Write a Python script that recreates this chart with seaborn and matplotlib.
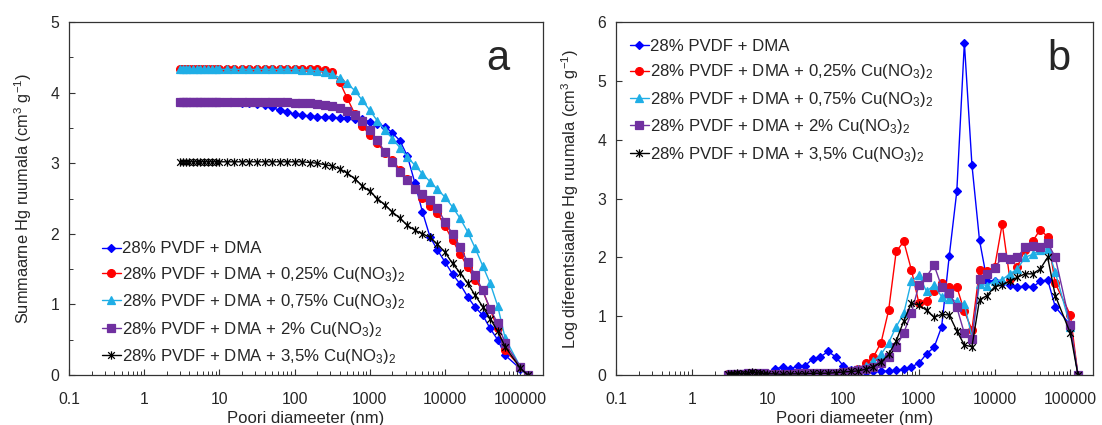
import matplotlib
matplotlib.use("Agg")
import matplotlib.pyplot as plt
import matplotlib.ticker as mticker
from matplotlib.path import Path
import seaborn as sns
import pandas as pd

# ---------------- data ----------------
diam = [3.0, 3.3, 3.6, 4.0, 4.5, 5.0, 5.6, 6.3, 7.1, 7.9, 8.9, 10,
        12.6, 15.8, 20, 25.1, 31.6, 39.8, 50.1, 63.1, 79.4,
        100, 126, 158, 200, 251, 316, 398, 501, 631, 794,
        1000, 1259, 1585, 1995, 2512, 3162, 3981, 5012, 6310, 7943,
        10000, 12589, 15849, 19953, 25119, 31623, 39811, 50119, 63096,
        100000, 125893]

labels = ["28% PVDF + DMA",
          "28% PVDF + DMA + 0,25% Cu(NO$_{\\mathrm{3}}$)$_{\\mathrm{2}}$",
          "28% PVDF + DMA + 0,75% Cu(NO$_{\\mathrm{3}}$)$_{\\mathrm{2}}$",
          "28% PVDF + DMA + 2% Cu(NO$_{\\mathrm{3}}$)$_{\\mathrm{2}}$",
          "28% PVDF + DMA + 3,5% Cu(NO$_{\\mathrm{3}}$)$_{\\mathrm{2}}$"]

# panel a: cumulative intrusion (cm3/g)
cum_blue = [3.87, 3.87, 3.87, 3.87, 3.87, 3.87, 3.87, 3.87, 3.87, 3.87, 3.87, 3.87,
            3.87, 3.87, 3.86, 3.85, 3.84, 3.82, 3.79, 3.75, 3.72,
            3.70, 3.68, 3.67, 3.66, 3.65, 3.65, 3.64, 3.64, 3.63, 3.62,
            3.59, 3.56, 3.52, 3.43, 3.32, 3.10, 2.72, 2.31, 1.96, 1.77,
            1.60, 1.43, 1.29, 1.11, 0.96, 0.85, 0.66, 0.50, 0.28,
            0.09, 0.0]
cum_red = [4.34, 4.34, 4.34, 4.34, 4.34, 4.34, 4.34, 4.34, 4.34, 4.34, 4.34, 4.34,
           4.34, 4.34, 4.34, 4.34, 4.34, 4.34, 4.34, 4.34, 4.34,
           4.34, 4.34, 4.34, 4.33, 4.32, 4.29, 4.15, 3.92, 3.70, 3.53,
           3.40, 3.29, 3.15, 3.04, 2.91, 2.77, 2.64, 2.51, 2.40, 2.29,
           2.11, 1.91, 1.72, 1.53, 1.35, 1.20, 0.93, 0.66, 0.35,
           0.12, 0.0]
cum_cyan = [4.33, 4.33, 4.33, 4.33, 4.33, 4.33, 4.33, 4.33, 4.33, 4.33, 4.33, 4.33,
            4.33, 4.33, 4.33, 4.33, 4.33, 4.33, 4.33, 4.33, 4.33,
            4.33, 4.32, 4.32, 4.31, 4.29, 4.26, 4.21, 4.13, 4.03, 3.89,
            3.75, 3.60, 3.47, 3.35, 3.22, 3.09, 2.97, 2.85, 2.74, 2.63,
            2.52, 2.38, 2.22, 2.03, 1.80, 1.55, 1.30, 0.98, 0.52,
            0.12, 0.0]
cum_purple = [3.87, 3.87, 3.87, 3.87, 3.87, 3.87, 3.87, 3.87, 3.87, 3.87, 3.87, 3.87,
              3.87, 3.87, 3.87, 3.87, 3.87, 3.87, 3.87, 3.87, 3.87,
              3.86, 3.86, 3.85, 3.84, 3.83, 3.81, 3.78, 3.74, 3.69, 3.60,
              3.47, 3.33, 3.16, 3.02, 2.88, 2.76, 2.64, 2.56, 2.48, 2.36,
              2.17, 2.00, 1.82, 1.60, 1.42, 1.20, 0.94, 0.73, 0.45,
              0.12, 0.0]
cum_black = [3.02, 3.02, 3.02, 3.02, 3.02, 3.02, 3.02, 3.02, 3.02, 3.02, 3.02, 3.02,
             3.02, 3.02, 3.02, 3.02, 3.02, 3.02, 3.02, 3.02, 3.02,
             3.02, 3.02, 3.01, 3.00, 2.98, 2.96, 2.92, 2.86, 2.78, 2.68,
             2.60, 2.50, 2.41, 2.31, 2.22, 2.12, 2.05, 2.00, 1.95, 1.85,
             1.74, 1.58, 1.45, 1.30, 1.13, 0.97, 0.80, 0.62, 0.40,
             0.10, 0.0]

# panel b: log differential intrusion (cm3/g)
dif_blue = [0.0, 0.0, 0.0, 0.0, 0.0, 0.0, 0.0, 0.0, 0.0, 0.0, 0.0, 0.0,
            0.11, 0.13, 0.11, 0.15, 0.16, 0.28, 0.31, 0.40, 0.31,
            0.16, 0.085, 0.06, 0.05, 0.06, 0.06, 0.07, 0.08, 0.10, 0.14,
            0.20, 0.36, 0.47, 0.82, 2.02, 3.12, 5.65, 3.57, 2.29, 1.60,
            1.60, 1.56, 1.53, 1.50, 1.51, 1.49, 1.59, 1.62, 1.16,
            0.85, 0.0]
dif_red = [0.01, 0.0, 0.01, 0.01, 0.0, 0.01, 0.01, 0.01, 0.0, 0.01, 0.01, 0.01,
           0.01, 0.01, 0.01, 0.02, 0.02, 0.02, 0.03, 0.03, 0.04,
           0.04, 0.07, 0.10, 0.20, 0.31, 0.55, 1.10, 2.10, 2.27, 1.79,
           1.22, 1.26, 1.42, 1.56, 1.50, 1.50, 1.08, 0.77, 1.79, 1.76,
           1.84, 2.57, 1.64, 1.84, 2.13, 2.27, 2.47, 2.35, 1.56,
           1.02, 0.0]
dif_cyan = [0.0, 0.0, 0.0, 0.0, 0.0, 0.0, 0.0, 0.0, 0.0, 0.0, 0.0, 0.0,
            0.0, 0.0, -0.01, 0.0, 0.0, 0.01, 0.01, 0.02, 0.03,
            0.05, 0.07, 0.10, 0.15, 0.23, 0.35, 0.55, 0.82, 1.05, 1.59,
            1.70, 1.42, 1.53, 1.33, 1.30, 1.25, 1.20, 0.65, 1.55, 1.52,
            1.60, 1.62, 1.72, 1.80, 2.00, 2.05, 2.12, 2.15, 1.75,
            0.82, 0.0]
dif_purple = [0.0, 0.01, 0.0, 0.02, 0.01, 0.02, 0.03, 0.02, 0.03, 0.02, 0.03, 0.02,
              0.02, 0.02, 0.02, 0.03, 0.03, 0.04, 0.04, 0.04, 0.04,
              0.05, 0.06, 0.08, 0.10, 0.14, 0.20, 0.30, 0.48, 0.72, 1.05,
              1.53, 1.67, 1.87, 1.50, 1.40, 1.15, 0.71, 0.62, 1.64, 1.72,
              1.82, 2.00, 1.98, 2.00, 2.17, 2.20, 2.17, 2.25, 2.00,
              0.85, 0.0]
dif_black = [0.01, 0.02, 0.01, 0.03, 0.02, 0.02, 0.03, 0.05, 0.04, 0.03, 0.02, 0.02,
             0.02, 0.01, 0.02, 0.02, 0.02, 0.03, 0.03, 0.03, 0.04,
             0.05, 0.06, 0.07, 0.10, 0.14, 0.22, 0.35, 0.58, 0.92, 1.22,
             1.19, 1.10, 0.98, 1.03, 1.02, 0.75, 0.51, 0.48, 1.28, 1.35,
             1.50, 1.53, 1.60, 1.66, 1.72, 1.72, 1.80, 2.00, 1.35,
             0.71, 0.0]

# ---------------- style ----------------
sns.set_theme(style="ticks")
plt.rcParams['font.family'] = ['Liberation Sans', 'DejaVu Sans']
plt.rcParams['mathtext.fontset'] = 'custom'
plt.rcParams['mathtext.rm'] = 'Liberation Sans'
plt.rcParams['mathtext.it'] = 'Liberation Sans:italic'
plt.rcParams['mathtext.bf'] = 'Liberation Sans:bold'

# Excel-like star marker: an "x" with a vertical bar
star = Path([(-1, -1), (1, 1), (-1, 1), (1, -1), (0, -1.25), (0, 1.25)],
            [Path.MOVETO, Path.LINETO, Path.MOVETO, Path.LINETO, Path.MOVETO, Path.LINETO])

colors = ['#0000FF', '#FF0000', '#1FAEE6', '#7030A0', '#000000']
markers = ['D', 'o', '^', 's', star]
msizes = [4.0, 5.6, 5.8, 5.6, 6.0]

fig = plt.figure(figsize=(11.02, 4.25), dpi=100)
axA = fig.add_axes([0.0626, 0.1176, 0.4300, 0.8306])
axB = fig.add_axes([0.5590, 0.1176, 0.4330, 0.8306])

series_a = [cum_blue, cum_red, cum_cyan, cum_purple, cum_black]
series_b = [dif_blue, dif_red, dif_cyan, dif_purple, dif_black]

for ax, series in ((axA, series_a), (axB, series_b)):
    for vals, lab, col, mk, ms in zip(series, labels, colors, markers, msizes):
        df = pd.DataFrame({'d': diam, 'v': vals})
        sns.lineplot(data=df, x='d', y='v', ax=ax, color=col, marker=mk,
                     markersize=ms, markeredgecolor=col, markeredgewidth=0.9,
                     linewidth=1.0, label=lab, estimator=None, sort=False)

for ax in (axA, axB):
    ax.set_xscale('log')
    ax.set_xlim(0.1, 2.0e5)
    ax.set_xticks([0.1, 1, 10, 100, 1000, 10000, 100000])
    ax.xaxis.set_major_formatter(mticker.FixedFormatter(
        ['0.1', '1', '10', '100', '1000', '10000', '100000']))
    ax.xaxis.set_minor_locator(mticker.LogLocator(base=10, subs=range(2, 10), numticks=20))
    ax.xaxis.set_minor_formatter(mticker.NullFormatter())
    ax.tick_params(axis='both', which='both', direction='in', labelsize=11.3,
                   color='#333333')
    ax.tick_params(axis='x', which='major', pad=12)
    ax.tick_params(axis='y', which='major', pad=7)
    ax.tick_params(axis='both', which='major', length=4, width=0.8)
    ax.tick_params(axis='both', which='minor', length=3, width=0.7)
    for sp in ax.spines.values():
        sp.set_color('#333333')
        sp.set_linewidth(0.9)
        sp.set_visible(True)
    ax.set_xlabel('Poori diameeter (nm)', fontsize=12, labelpad=3)

axA.set_ylim(0, 5)
axA.set_yticks([0, 1, 2, 3, 4, 5])
axA.yaxis.set_minor_locator(mticker.MultipleLocator(0.5))
axA.set_ylabel('Summaarne Hg ruumala (cm$^{\\mathrm{3}}$ g$^{\\mathrm{-1}}$)', fontsize=11.8, labelpad=12)

axB.set_ylim(0, 6)
axB.set_yticks([0, 1, 2, 3, 4, 5, 6])
axB.yaxis.set_minor_locator(mticker.NullLocator())
axB.set_ylabel('Log diferentsiaalne Hg ruumala (cm$^{\\mathrm{3}}$ g$^{\\mathrm{-1}}$)', fontsize=11.8, labelpad=12)

axA.text(0.905, 0.895, 'a', transform=axA.transAxes, fontsize=30, ha='center', va='center')
axB.text(0.928, 0.895, 'b', transform=axB.transAxes, fontsize=30, ha='center', va='center')

legkw = dict(frameon=False, fontsize=12.1, handlelength=1.1, handletextpad=0.1,
             labelspacing=0.5, borderpad=0.2)
axA.legend(loc='lower left', bbox_to_anchor=(0.045, -0.008), **legkw)
axB.legend(loc='upper left', bbox_to_anchor=(0.005, 0.985), **legkw)

fig.savefig('out.png', dpi=100)
